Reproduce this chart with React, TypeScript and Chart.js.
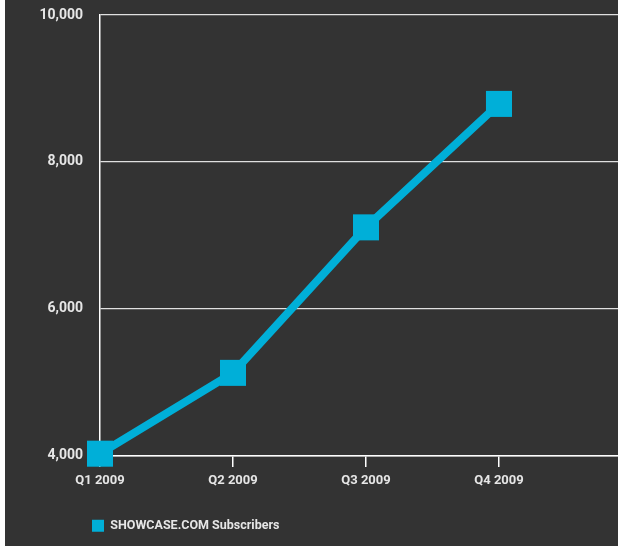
import React, { useEffect, useRef } from "react";
import { Chart, registerables } from "chart.js";

Chart.register(...registerables);

const categories = ["Q1 2009", "Q2 2009", "Q3 2009", "Q4 2009"];
const subscribers = [4030, 5130, 7110, 8790];
const yMin = 4000;
const yMax = 10000;
const yStep = 2000;
const seriesName = "SHOWCASE.COM Subscribers";

const LINE_COLOR = "#00AFD8";
const TEXT_COLOR = "#E6E6E6";
const BG = "#333333";
const FONT = { family: "Roboto", size: 13, weight: "bold" as const };
const Y_FONT = { family: "Roboto", size: 14, weight: "bold" as const };
const LEGEND_FONT = { family: "Roboto", size: 12.5, weight: "bold" as const };

const bgPlugin = {
  id: "bgFill",
  beforeDraw(chart: any) {
    const { ctx, width, height } = chart;
    ctx.save();
    ctx.fillStyle = "#ffffff";
    ctx.fillRect(0, 0, width, height);
    ctx.fillStyle = BG;
    ctx.fillRect(5, 0, width - 5, height);
    ctx.restore();
  },
};

const legendShift = {
  id: "legendShift",
  afterLayout(chart: any) {
    if (chart.legend) {
      const w = chart.legend.right - chart.legend.left;
      chart.legend.left = 82;
      chart.legend.right = 82 + w;
    }
  },
};

export default function App() {
  const ref = useRef<HTMLCanvasElement | null>(null);

  useEffect(() => {
    if (!ref.current) return;
    const chart = new Chart(ref.current, {
      type: "line",
      data: {
        datasets: [
          {
            label: seriesName,
            data: subscribers.map((v, i) => ({ x: i, y: v })),
            borderColor: LINE_COLOR,
            backgroundColor: LINE_COLOR,
            borderWidth: 8,
            tension: 0,
            pointStyle: "rect",
            pointRadius: 18.4,
            pointHoverRadius: 18.4,
            pointBorderWidth: 0,
            pointBackgroundColor: LINE_COLOR,
            clip: false as any,
          },
        ],
      },
      options: {
        animation: false,
        responsive: false,
        maintainAspectRatio: false,
        layout: { autoPadding: false, padding: { left: 30, top: 15, right: 0, bottom: 4 } },
        plugins: {
          tooltip: { enabled: false },
          legend: {
            position: "bottom",
            align: "start",
            labels: {
              color: TEXT_COLOR,
              font: LEGEND_FONT,
              boxWidth: 12,
              boxHeight: 12,
              padding: 10,
              generateLabels: (c: any) =>
                (Chart.defaults.plugins.legend.labels as any)
                  .generateLabels(c)
                  .map((l: any) => ({ ...l, lineWidth: 0, fillStyle: LINE_COLOR, strokeStyle: LINE_COLOR })),
            },
          },
        },
        scales: {
          x: {
            type: "linear",
            min: 0,
            max: 3.895,
            afterBuildTicks: (s: any) => {
              s.ticks = s.ticks.filter((t: any) => Number.isInteger(t.value) && t.value < categories.length);
            },
            afterFit: (s: any) => {
              s.paddingLeft = 0;
              s.paddingRight = 0;
              s.height += 15;
            },
            ticks: {
              stepSize: 1,
              autoSkip: false,
              maxRotation: 0,
              color: TEXT_COLOR,
              font: FONT,
              padding: 6,
              callback: (v: any) => categories[Number(v)] ?? "",
            },
            grid: {
              drawOnChartArea: false,
              drawTicks: true,
              tickLength: 11,
              color: "#FFFFFF",
              lineWidth: 1.5,
            },
            border: { display: true, color: "#FFFFFF", width: 1.5 },
          },
          y: {
            min: yMin,
            max: yMax,
            afterFit: (s: any) => {
              s.width = 70;
              s.paddingTop = 0;
              s.paddingBottom = 0;
            },
            ticks: {
              stepSize: yStep,
              color: TEXT_COLOR,
              font: Y_FONT,
              padding: 17,
              callback: (v: any) => Number(v).toLocaleString("en-US"),
            },
            grid: {
              drawTicks: false,
              color: "#E0E0E0",
              lineWidth: 1.2,
            },
            border: { display: true, color: "#FFFFFF", width: 1.5 },
          },
        },
      },
      plugins: [bgPlugin, legendShift],
    });
    return () => chart.destroy();
  }, []);

  return (
    <div style={{ position: "fixed", left: 0, top: 0, width: 618, height: 546 }}>
      <canvas ref={ref} width={618} height={546} style={{ display: "block", width: 618, height: 546 }} />
    </div>
  );
}
